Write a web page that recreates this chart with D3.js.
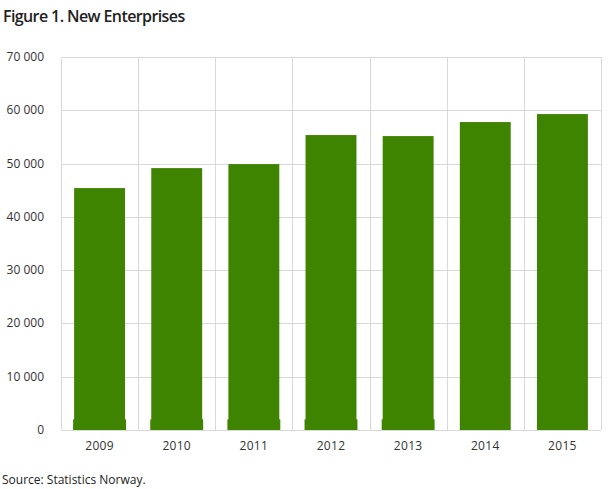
<!DOCTYPE html>
<html>
<head>
<meta charset="utf-8">
<script src="https://d3js.org/d3.v7.min.js"></script>
<style>
  body { margin: 0; background: #fff; }
  svg { display: block; font-family: "Open Sans", sans-serif; }
</style>
</head>
<body>
<div id="chart"></div>
<script>
// Data
const years = ["2009", "2010", "2011", "2012", "2013", "2014", "2015"];
const totals = [45400, 49150, 49900, 55350, 55160, 57790, 59290];
const baseSegment = [2000, 2000, 2000, 2000, 2000, 0, 0];
const yTicks = [0, 10000, 20000, 30000, 40000, 50000, 60000, 70000];

const width = 609;
const height = 489;
const margin = { top: 57, right: 8, bottom: 59, left: 61 };
const barColor = "#3f8400";
const gridColor = "#d9d9d9";

const svg = d3.select("#chart")
    .append("svg")
    .attr("width", width)
    .attr("height", height);

const x = d3.scaleBand()
    .domain(years)
    .range([margin.left, width - margin.right])
    .paddingInner(0.34)
    .paddingOuter(0.17);

const y = d3.scaleLinear()
    .domain([0, 70000])
    .range([height - margin.bottom, margin.top]);

const fmt = d => d3.format(",")(d).replace(/,/g, " ");
const step = x.step();

// Horizontal gridlines
svg.append("g")
    .selectAll("line")
    .data(yTicks)
    .join("line")
    .attr("x1", margin.left)
    .attr("x2", width - margin.right)
    .attr("y1", d => Math.round(y(d)) + 0.5)
    .attr("y2", d => Math.round(y(d)) + 0.5)
    .attr("stroke", gridColor);

// Vertical gridlines at category boundaries
const bounds = years.map(d => x(d) - step * 0.17).concat([width - margin.right]);
svg.append("g")
    .selectAll("line")
    .data(bounds)
    .join("line")
    .attr("x1", d => Math.round(d) + 0.5)
    .attr("x2", d => Math.round(d) + 0.5)
    .attr("y1", y(70000))
    .attr("y2", y(0))
    .attr("stroke", gridColor);

// Bars
svg.append("g")
    .selectAll("rect")
    .data(years)
    .join("rect")
    .attr("x", d => x(d))
    .attr("width", x.bandwidth())
    .attr("y", (d, i) => y(totals[i]))
    .attr("height", (d, i) => y(0) - y(totals[i]))
    .attr("fill", barColor);

// Lower segment, drawn a touch wider
svg.append("g")
    .selectAll("rect")
    .data(years.filter((d, i) => baseSegment[i] > 0))
    .join("rect")
    .attr("x", d => x(d) - 1)
    .attr("width", x.bandwidth() + 2)
    .attr("y", d => y(baseSegment[years.indexOf(d)]))
    .attr("height", d => y(0) - y(baseSegment[years.indexOf(d)]))
    .attr("fill", barColor);

// Y axis labels
svg.append("g")
    .selectAll("text")
    .data(yTicks)
    .join("text")
    .attr("x", 44)
    .attr("y", d => y(d) + 4)
    .attr("text-anchor", "end")
    .style("font-size", "12px")
    .style("fill", "#333")
    .text(fmt);

// X axis labels
svg.append("g")
    .selectAll("text")
    .data(years)
    .join("text")
    .attr("x", d => x(d) + x.bandwidth() / 2)
    .attr("y", 450)
    .attr("text-anchor", "middle")
    .style("font-size", "12px")
    .style("fill", "#333")
    .style("letter-spacing", "0.3px")
    .text(d => d);

// Title
svg.append("text")
    .attr("x", 3)
    .attr("y", 22)
    .style("font-size", "16px")
    .style("font-weight", "600")
    .style("letter-spacing", "-0.6px")
    .style("fill", "#222")
    .text("Figure 1. New Enterprises");

// Source
svg.append("text")
    .attr("x", 2)
    .attr("y", 484)
    .style("font-size", "12px")
    .style("fill", "#222")
    .text("Source: Statistics Norway.");
</script>
</body>
</html>
